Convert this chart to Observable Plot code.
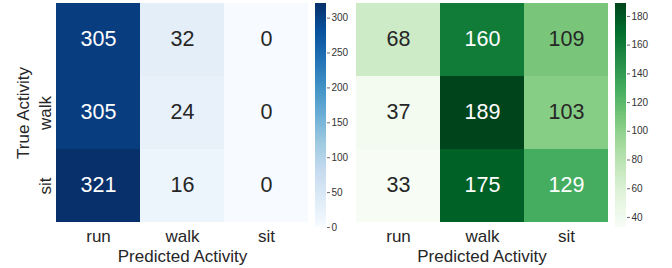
<!DOCTYPE html>
<html>
<head>
<meta charset="utf-8">
<script src="https://cdn.jsdelivr.net/npm/d3@7"></script>
<script src="https://cdn.jsdelivr.net/npm/@observablehq/plot@0.6"></script>
<style>
  html, body { margin: 0; padding: 0; background: white; }
  #chart { position: relative; width: 672px; height: 268px; overflow: hidden; background: white; }
  #chart svg { position: absolute; top: 0; }
</style>
</head>
<body>
<div id="chart"></div>
<script>
// ---- data ----
const predicted = ["run", "walk", "sit"];
const actual = ["run", "walk", "sit"];
const yTickLabels = ["", "walk", "sit"]; // "run" row label is not visible in the reference
const blueCounts = [
  [305, 32, 0],
  [305, 24, 0],
  [321, 16, 0]
];
const greenCounts = [
  [68, 160, 109],
  [37, 189, 103],
  [33, 175, 129]
];
const blueTicks = [0, 50, 100, 150, 200, 250, 300];
const greenTicks = [40, 60, 80, 100, 120, 140, 160, 180];

// ---- styling ----
const FONT = "'Liberation Sans', Arial, sans-serif";
const DARK = "#262626";
const bluesPalette = ["#f7fbff","#deebf7","#c6dbef","#9ecae1","#6baed6","#4292c6","#2171b5","#08519c","#08306b"];
const greensPalette = ["#f7fcf5","#e5f5e0","#c7e9c0","#a1d99b","#74c476","#41ab5d","#238b45","#006d2c","#00441b"];

function toTable(counts) {
  return counts.flatMap((row, i) => row.map((v, j) => ({act: actual[i], pred: predicted[j], value: v})));
}
function colorOptions(palette, domain) {
  return {type: "linear", domain, interpolate: d3.piecewise(d3.interpolateRgb, palette)};
}
function luminance(c) {
  const rgb = d3.rgb(c);
  const f = x => { x /= 255; return x <= 0.03928 ? x / 12.92 : Math.pow((x + 0.055) / 1.055, 2.4); };
  return 0.2126 * f(rgb.r) + 0.7152 * f(rgb.g) + 0.0722 * f(rgb.b);
}

const chart = document.getElementById("chart");
function place(svg, left) { svg.style.left = left + "px"; chart.append(svg); }

function heatmap(counts, palette, width, marginLeft, withY) {
  const table = toTable(counts);
  const vals = table.map(d => d.value);
  const domain = [d3.min(vals), d3.max(vals)];
  const copts = colorOptions(palette, domain);
  const scale = Plot.scale({color: copts});
  const textColor = v => luminance(scale.apply(v)) > 0.408 ? DARK : "white";
  const marks = [
    Plot.cell(table, {x: "pred", y: "act", fill: "value", inset: 0, shapeRendering: "crispEdges"}),
    Plot.text(table, {x: "pred", y: "act", text: d => String(d.value), fill: d => textColor(d.value), fontSize: 21.5, dy: -1}),
    Plot.axisX({tickSize: 0, tickPadding: 6, fontSize: 17, fill: DARK, label: null}),
    Plot.text(["Predicted Activity"], {frameAnchor: "bottom", lineAnchor: "middle", textAnchor: "middle", dy: 33, fontSize: 17, fill: DARK})
  ];
  if (withY) {
    const yLabels = actual.map((a, i) => ({a, label: yTickLabels[i]})).filter(d => d.label);
    marks.push(
      Plot.text(yLabels, {y: "a", text: "label", frameAnchor: "left", textAnchor: "middle", lineAnchor: "middle", rotate: -90, dx: -11, fontSize: 17, fill: DARK}),
      Plot.text(["True Activity"], {frameAnchor: "left", textAnchor: "middle", lineAnchor: "middle", rotate: -90, dx: -33, fontSize: 17, fill: DARK})
    );
  }
  return {
    domain, copts,
    svg: Plot.plot({
      width, height: 268, marginLeft, marginRight: 0, marginTop: 2, marginBottom: 45,
      style: {fontFamily: FONT, background: "transparent", overflow: "visible"},
      x: {domain: predicted, padding: 0, axis: null},
      y: {domain: actual, padding: 0, axis: null},
      color: copts,
      marks
    })
  };
}

function colorbar(copts, domain, ticks) {
  const n = 150;
  const step = (domain[1] - domain[0]) / n;
  const stops = d3.range(n).map(i => domain[0] + i * step);
  return Plot.plot({
    width: 36, height: 268, marginLeft: 0, marginRight: 25, marginTop: 3, marginBottom: 41,
    style: {fontFamily: FONT, background: "transparent", overflow: "visible"},
    x: {axis: null},
    y: {domain, axis: null},
    color: copts,
    marks: [
      Plot.rect(stops, {y1: d => d, y2: d => Math.min(domain[1], d + step * 1.6), fill: d => d + step / 2, shapeRendering: "crispEdges"}),
      Plot.axisY({anchor: "right", ticks, tickSize: 3, tickPadding: 2, fontSize: 10, fill: "#333", stroke: "#666", label: null})
    ]
  });
}

const left = heatmap(blueCounts, bluesPalette, 308, 56, true);
const right = heatmap(greenCounts, greensPalette, 253, 0, false);
place(left.svg, 0);
place(colorbar(left.copts, left.domain, blueTicks), 315);
place(right.svg, 355);
place(colorbar(right.copts, right.domain, greenTicks), 615);
</script>
</body>
</html>
